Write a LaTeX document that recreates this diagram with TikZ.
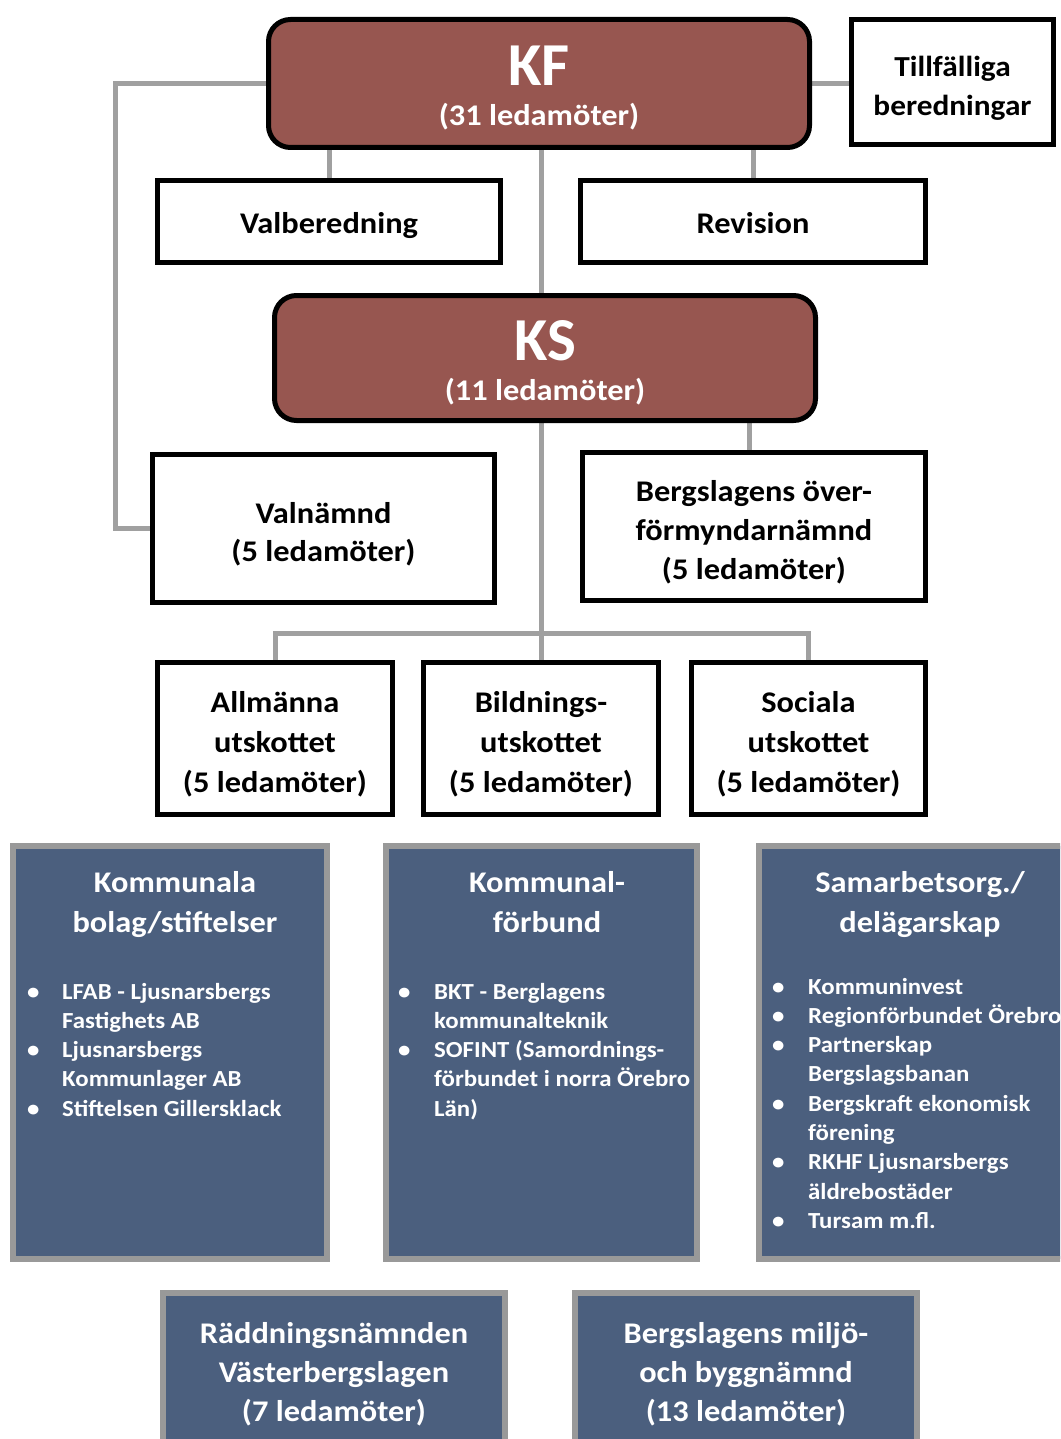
\documentclass[tikz,border=0pt]{standalone}
\usepackage{fontspec}
\setmainfont{Carlito}[FakeStretch=1.08]
\newfontfamily\plainf{Carlito}
\definecolor{kfred}{HTML}{975650}
\definecolor{navy}{HTML}{4B5F7E}
\definecolor{linegray}{HTML}{A0A0A0}
\definecolor{edgegray}{HTML}{999999}
\newcommand\dn{\rule{0pt}{32pt}}
\pgfdeclarelayer{bg}
\pgfsetlayers{bg,main}
\begin{document}
\begin{tikzpicture}[x=1pt,y=-1pt,
  blk/.style={draw=black, line width=5pt, fill=white, align=center, inner sep=0pt, font=\bfseries\fontsize{30}{40}\selectfont},
  topbox/.style={blk, fill=kfred, rounded corners=22pt, text=white},
  blu/.style={draw=edgegray, line width=6pt, fill=navy, inner sep=0pt, text=white, align=center, font=\bfseries\fontsize{30}{39}\selectfont},
  conn/.style={draw=linegray, line width=5pt},
  ttl/.style={text=white, align=center, inner sep=0pt, font=\bfseries\fontsize{30}{40}\selectfont},
  lst/.style={text=white, anchor=base west, inner sep=0pt, font=\bfseries\fontsize{23}{29.3}\selectfont}]
\useasboundingbox (0,0) rectangle (1060,1439);
\clip (0,0) rectangle (1060,1439);

% top level
\node[topbox, minimum width=541pt, minimum height=128pt] (KF) at (539,83.5)
  {\rule{0pt}{49pt}{\plainf\fontsize{61}{34}\selectfont KF}\\\fontsize{30}{34}\selectfont(31 ledamöter)};
\node[blk, minimum width=202pt, minimum height=125pt, font=\bfseries\fontsize{29}{39}\selectfont] (TB) at (952.5,82) {\dn Tillfälliga\\beredningar};
\node[blk, minimum width=343pt, minimum height=82pt] (VB) at (329,221.5) {\rule{0pt}{30pt}Valberedning};
\node[blk, minimum width=345pt, minimum height=82pt] (RV) at (753,221.5) {\rule{0pt}{25pt}Revision};
\node[topbox, minimum width=541pt, minimum height=125pt] (KS) at (545,358)
  {\rule{0pt}{49pt}{\plainf\fontsize{61}{34}\selectfont KS}\\\fontsize{30}{34}\selectfont(11 ledamöter)};
\node[blk, minimum width=342pt, minimum height=148pt, font=\bfseries\fontsize{30}{38}\selectfont] (VN) at (323.5,528.5) {\dn Valnämnd\\(5 ledamöter)};
\node[blk, minimum width=343pt, minimum height=148pt, font=\bfseries\fontsize{30}{39}\selectfont] (BO) at (754,526.5) {\dn Bergslagens över-\\förmyndarnämnd\\(5 ledamöter)};
\node[blk, minimum width=235pt, minimum height=152pt] (AU) at (275,738.5) {\dn Allmänna\\utskottet\\(5 ledamöter)};
\node[blk, minimum width=235pt, minimum height=152pt] (BU) at (541,738.5) {\dn Bildnings-\\utskottet\\(5 ledamöter)};
\node[blk, minimum width=234pt, minimum height=152pt] (SU) at (808.5,738.5) {\dn Sociala\\utskottet\\(5 ledamöter)};

% blue boxes
\node[blu, minimum width=314pt, minimum height=413pt] (KB) at (170,1052.5) {};
\node[ttl] (KBt) at (175,905) {Kommunala\\bolag/stiftelser};
\node[lst] (KBl) at (27,999) {\begin{tabular}[t]{@{}l@{}}
\makebox[35pt][l]{•}LFAB - Ljusnarsbergs\\
\hspace*{35pt}Fastighets AB\\
\makebox[35pt][l]{•}Ljusnarsbergs\\
\hspace*{35pt}Kommunlager AB\\
\makebox[35pt][l]{•}Stiftelsen Gillersklack
\end{tabular}};

\node[blu, minimum width=311pt, minimum height=413pt] (KFB) at (541.5,1052.5) {};
\node[ttl] (KFBt) at (547,902) {Kommunal-\\förbund};
\node[lst] (KFBl) at (398,999) {\begin{tabular}[t]{@{}l@{}}
\makebox[36pt][l]{•}BKT - Berglagens\\
\hspace*{36pt}kommunalteknik\\
\makebox[36pt][l]{•}SOFINT (Samordnings-\\
\hspace*{36pt}förbundet i norra Örebro\\
\hspace*{36pt}Län)
\end{tabular}};

\node[blu, minimum width=318pt, minimum height=413pt] (SB) at (918,1052.5) {};
\node[ttl] (SBt) at (920,905) {Samarbetsorg./\\delägarskap};
\node[lst] (SBl) at (772,994) {\begin{tabular}[t]{@{}l@{}}
\makebox[36pt][l]{•}Kommuninvest\\
\makebox[36pt][l]{•}Regionförbundet Örebro\\
\makebox[36pt][l]{•}Partnerskap\\
\hspace*{36pt}Bergslagsbanan\\
\makebox[36pt][l]{•}Bergskraft ekonomisk\\
\hspace*{36pt}förening\\
\makebox[36pt][l]{•}RKHF Ljusnarsbergs\\
\hspace*{36pt}äldrebostäder\\
\makebox[36pt][l]{•}Tursam m.fl.
\end{tabular}};

\node[blu, minimum width=342pt, minimum height=162pt] (RN) at (334,1374) {Räddningsnämnden\\Västerbergslagen\\(7 ledamöter)};
\node[blu, minimum width=342pt, minimum height=162pt] (BM) at (746,1374) {Bergslagens miljö-\\och byggnämnd\\(13 ledamöter)};

% connectors
\coordinate (L) at (115,0);
\coordinate (spine) at (541,0);
\coordinate (bx) at (749,0);
\coordinate (bus) at (0,633);
\begin{pgfonlayer}{bg}
\draw[conn] (KF.west) -- (KF.west -| L) -- (VN.west -| L) -- (VN.west);
\draw[conn] (KF.east) -- (KF.east -| TB.west);
\draw[conn] (VB.north) -- (VB.north |- KF.south);
\draw[conn] (RV.north) -- (RV.north |- KF.south);
\draw[conn] (spine |- KF.south) -- (spine |- KS.north);
\draw[conn] (bx |- KS.south) -- (bx |- BO.north);
\draw[conn] (spine |- KS.south) -- (spine |- bus);
\draw[conn] (AU.north) -- (AU.north |- bus) -- (SU.north |- bus) -- (SU.north);
\draw[conn] (BU.north) -- (BU.north |- bus);
\end{pgfonlayer}
\end{tikzpicture}
\end{document}
